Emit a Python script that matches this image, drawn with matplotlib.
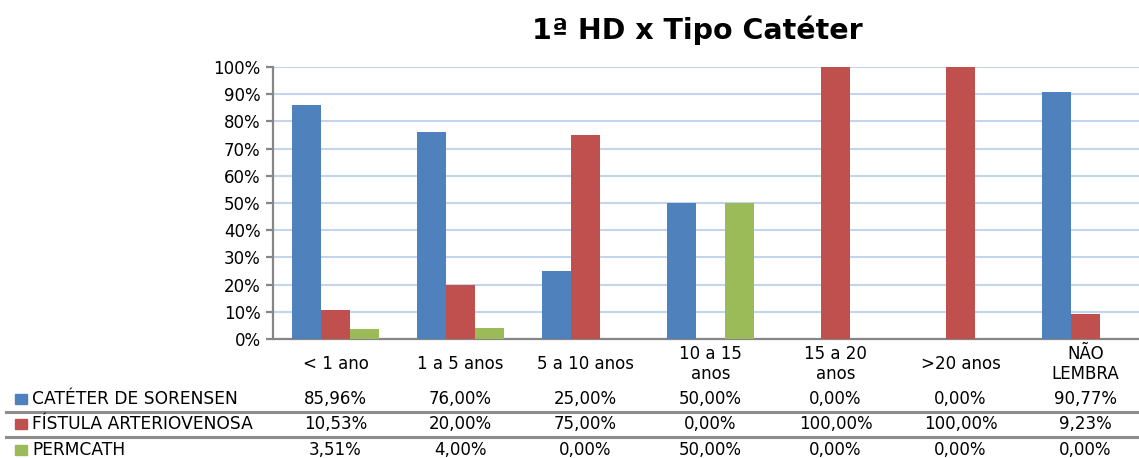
import matplotlib
matplotlib.use("Agg")
import matplotlib.pyplot as plt
import numpy as np
from matplotlib.lines import Line2D
from matplotlib.patches import Rectangle

title = "1ª HD x Tipo Catéter"
categories = ["< 1 ano", "1 a 5 anos", "5 a 10 anos", "10 a 15\nanos", "15 a 20\nanos", ">20 anos", "NÃO\nLEMBRA"]
series_names = ["CATÉTER DE SORENSEN", "FÍSTULA ARTERIOVENOSA", "PERMCATH"]
sorensen = [85.96, 76.00, 25.00, 50.00, 0.00, 0.00, 90.77]
fistula = [10.53, 20.00, 75.00, 0.00, 100.00, 100.00, 9.23]
permcath = [3.51, 4.00, 0.00, 50.00, 0.00, 0.00, 0.00]
colors = ["#4F81BD", "#C0504D", "#9BBB59"]
yticks = [0, 10, 20, 30, 40, 50, 60, 70, 80, 90, 100]

plt.rcParams['font.family'] = ['DejaVu Sans']
W, H = 1139, 458
fig = plt.figure(figsize=(W / 100, H / 100), dpi=100)

ax_l, ax_r, ax_t, ax_b = 273, 1148, 67, 339
ax = fig.add_axes([ax_l / W, 1 - ax_b / H, (ax_r - ax_l) / W, (ax_b - ax_t) / H])

series = [sorensen, fistula, permcath]
n = len(categories)
x = np.arange(n)
bw = 0.23
for i, vals in enumerate(series):
    ax.bar(x + (i - 1) * bw, vals, width=bw, color=colors[i], zorder=3)

txt_color = "#000000"
ax.set_xlim(-0.5, n - 0.5)
ax.set_ylim(0, 100)
ax.set_yticks(yticks)
ax.set_yticklabels([f"{v}%" for v in yticks], fontsize=12, color=txt_color)
ax.yaxis.grid(True, color="#C3D5EC", linewidth=1.5, zorder=0)
ax.set_xticks([])
for s in ["top", "right"]:
    ax.spines[s].set_visible(False)
ax.spines["left"].set_color("#868686")
ax.spines["bottom"].set_color("#868686")
ax.spines["left"].set_linewidth(1.6)
ax.spines["bottom"].set_linewidth(1.6)
ax.tick_params(axis="y", length=5, color="#868686", width=1.6, pad=4)

fig.text(697 / W, 1 - 30 / H, title, ha="center", va="center", fontsize=20.5,
         fontweight="bold", color="#000000")

def xpix(i):
    return ax_l + (i + 0.5) * (ax_r - ax_l) / n

for i, c in enumerate(categories):
    fig.text(xpix(i) / W, 1 - 364 / H, c, ha="center", va="center", fontsize=12,
             color=txt_color, linespacing=1.2)

row_y = [399, 424, 450]
for r, (name, vals) in enumerate(zip(series_names, series)):
    yy = 1 - row_y[r] / H
    fig.patches.append(Rectangle((15 / W, yy - 5 / H), 12 / W, 10 / H,
                                 transform=fig.transFigure, color=colors[r]))
    fig.text(32 / W, yy, name, ha="left", va="center", fontsize=12.3,
             color=txt_color)
    for i, v in enumerate(vals):
        fig.text(xpix(i) / W, yy, f"{v:.2f}%".replace(".", ","), ha="center",
                 va="center", fontsize=12, color=txt_color)

for ly in [411.5, 436.5]:
    fig.lines.append(Line2D([6 / W, 1.0], [1 - ly / H, 1 - ly / H],
                            transform=fig.transFigure, color="#8C8C8C", linewidth=2.2))

fig.savefig("out.png", dpi=100)
